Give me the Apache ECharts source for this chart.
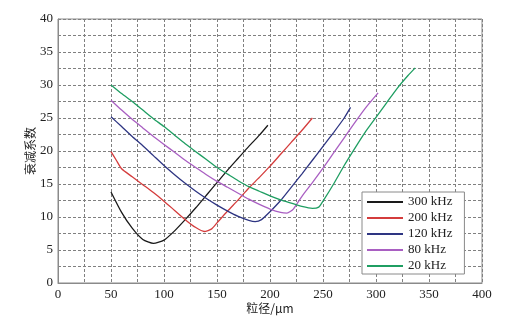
<!DOCTYPE html>
<html>
<head>
<meta charset="utf-8">
<script src="https://cdn.jsdelivr.net/npm/echarts@6/dist/echarts.min.js"></script>
<style>html,body{margin:0;padding:0;background:#fff;}#c{width:510px;height:322px;}</style>
</head>
<body>
<div id="c"></div>
<script>
var seriesNames = ['300 kHz', '200 kHz', '120 kHz', '80 kHz', '20 kHz'];
var x300 = [50, 60, 70, 80, 90, 100, 110, 120, 130, 140, 150, 160, 170, 180, 190, 198];
var y300 = [13.8, 10.7, 8.3, 6.6, 6.0, 6.5, 7.9, 9.6, 11.4, 13.3, 15.2, 17.1, 18.9, 20.7, 22.4, 23.9];
var x200 = [50, 55, 60, 70, 80, 90, 100, 110, 120, 130, 138, 145, 150, 160, 170, 180, 190, 200, 210, 220, 230, 240];
var y200 = [19.9, 18.6, 17.3, 16.1, 14.9, 13.7, 12.4, 11.0, 9.6, 8.4, 7.8, 8.2, 9.1, 10.9, 12.6, 14.4, 16.0, 17.7, 19.5, 21.3, 23.1, 25.0];
var x120 = [50, 60, 70, 80, 90, 100, 110, 120, 130, 140, 150, 160, 170, 180, 186, 192, 200, 210, 220, 230, 240, 250, 260, 270, 276];
var y120 = [25.2, 23.7, 22.2, 20.8, 19.3, 17.8, 16.4, 15.1, 13.9, 12.8, 11.8, 10.9, 10.1, 9.5, 9.3, 9.6, 10.8, 12.5, 14.5, 16.5, 18.6, 20.7, 22.8, 25.0, 26.6];
var x80 = [50, 60, 70, 80, 90, 100, 110, 120, 130, 140, 150, 160, 170, 180, 190, 200, 210, 216, 222, 230, 240, 250, 260, 270, 280, 290, 302];
var y80 = [27.7, 26.2, 24.8, 23.5, 22.2, 21.0, 19.8, 18.6, 17.5, 16.4, 15.4, 14.5, 13.6, 12.7, 11.9, 11.2, 10.7, 10.6, 11.2, 13.1, 15.2, 17.4, 19.7, 22.0, 24.3, 26.5, 28.8];
var x20 = [50, 60, 70, 80, 90, 100, 110, 120, 130, 140, 150, 160, 170, 180, 190, 200, 210, 220, 230, 240, 246, 250, 260, 270, 280, 290, 300, 310, 320, 330, 337];
var y20 = [30.0, 28.7, 27.5, 26.2, 24.9, 23.7, 22.4, 21.1, 19.9, 18.7, 17.5, 16.5, 15.5, 14.6, 13.9, 13.2, 12.6, 12.1, 11.6, 11.3, 11.5, 12.4, 15.0, 17.8, 20.4, 22.9, 25.1, 27.3, 29.5, 31.4, 32.6];
var xTicks = [0, 50, 100, 150, 200, 250, 300, 350, 400];
var yTicks = [0, 5, 10, 15, 20, 25, 30, 35, 40];
var colors = ['#1a1a1a', '#d43c3c', '#2e3582', '#a95fc2', '#1f9e62'];

var xsAll = [x300, x200, x120, x80, x20];
var ysAll = [y300, y200, y120, y80, y20];
function zip(xs, ys) { return xs.map(function (v, i) { return [v, ys[i]]; }); }

var serif = '"Liberation Serif", "DejaVu Serif", serif';
var cjk = '"Noto Sans CJK SC", sans-serif';
var gridLine = { show: true, lineStyle: { color: '#808080', type: [3, 2], width: 1 } };

var chart = echarts.init(document.getElementById('c'));
chart.setOption({
  animation: false,
  backgroundColor: '#fff',
  grid: { left: 58, right: 28, top: 19, bottom: 39, show: true, borderColor: '#8a8a8a', borderWidth: 1, backgroundColor: 'transparent' },
  xAxis: {
    type: 'value', min: xTicks[0], max: xTicks[xTicks.length - 1], interval: 50,
    name: '粒径/μm', nameLocation: 'middle', nameGap: 19, nameMoveOverlap: false,
    nameTextStyle: { fontFamily: cjk, fontSize: 12, color: '#222' },
    axisLine: { show: true, lineStyle: { color: '#8a8a8a' } },
    axisTick: { show: false },
    axisLabel: { fontFamily: serif, fontSize: 13, color: '#222', margin: 5 },
    splitLine: gridLine,
    minorTick: { show: false, splitNumber: 2 },
    minorSplitLine: gridLine
  },
  yAxis: {
    type: 'value', min: yTicks[0], max: yTicks[yTicks.length - 1], interval: 5,
    name: '衰减系数', nameLocation: 'middle', nameGap: 22, nameRotate: 90, nameMoveOverlap: false,
    nameTextStyle: { fontFamily: cjk, fontSize: 12, color: '#222' },
    axisLine: { show: true, lineStyle: { color: '#8a8a8a' } },
    axisTick: { show: false },
    axisLabel: { fontFamily: serif, fontSize: 13, color: '#222', margin: 5 },
    splitLine: gridLine,
    minorTick: { show: false, splitNumber: 2 },
    minorSplitLine: gridLine
  },
  legend: {
    orient: 'vertical', left: 362, top: 192,
    backgroundColor: '#fff', borderColor: '#8a8a8a', borderWidth: 1,
    padding: [2, 12, 0, 5], itemGap: 0, itemWidth: 36, itemHeight: 2, icon: 'rect',
    textStyle: { fontFamily: serif, fontSize: 13, color: '#222', lineHeight: 16 },
    data: seriesNames
  },
  series: seriesNames.map(function (n, i) {
    return {
      name: n, type: 'line', data: zip(xsAll[i], ysAll[i]), smooth: 0.2,
      showSymbol: false, symbol: 'none', color: colors[i],
      lineStyle: { width: 1.3, color: colors[i] }
    };
  })
});
</script>
</body>
</html>
